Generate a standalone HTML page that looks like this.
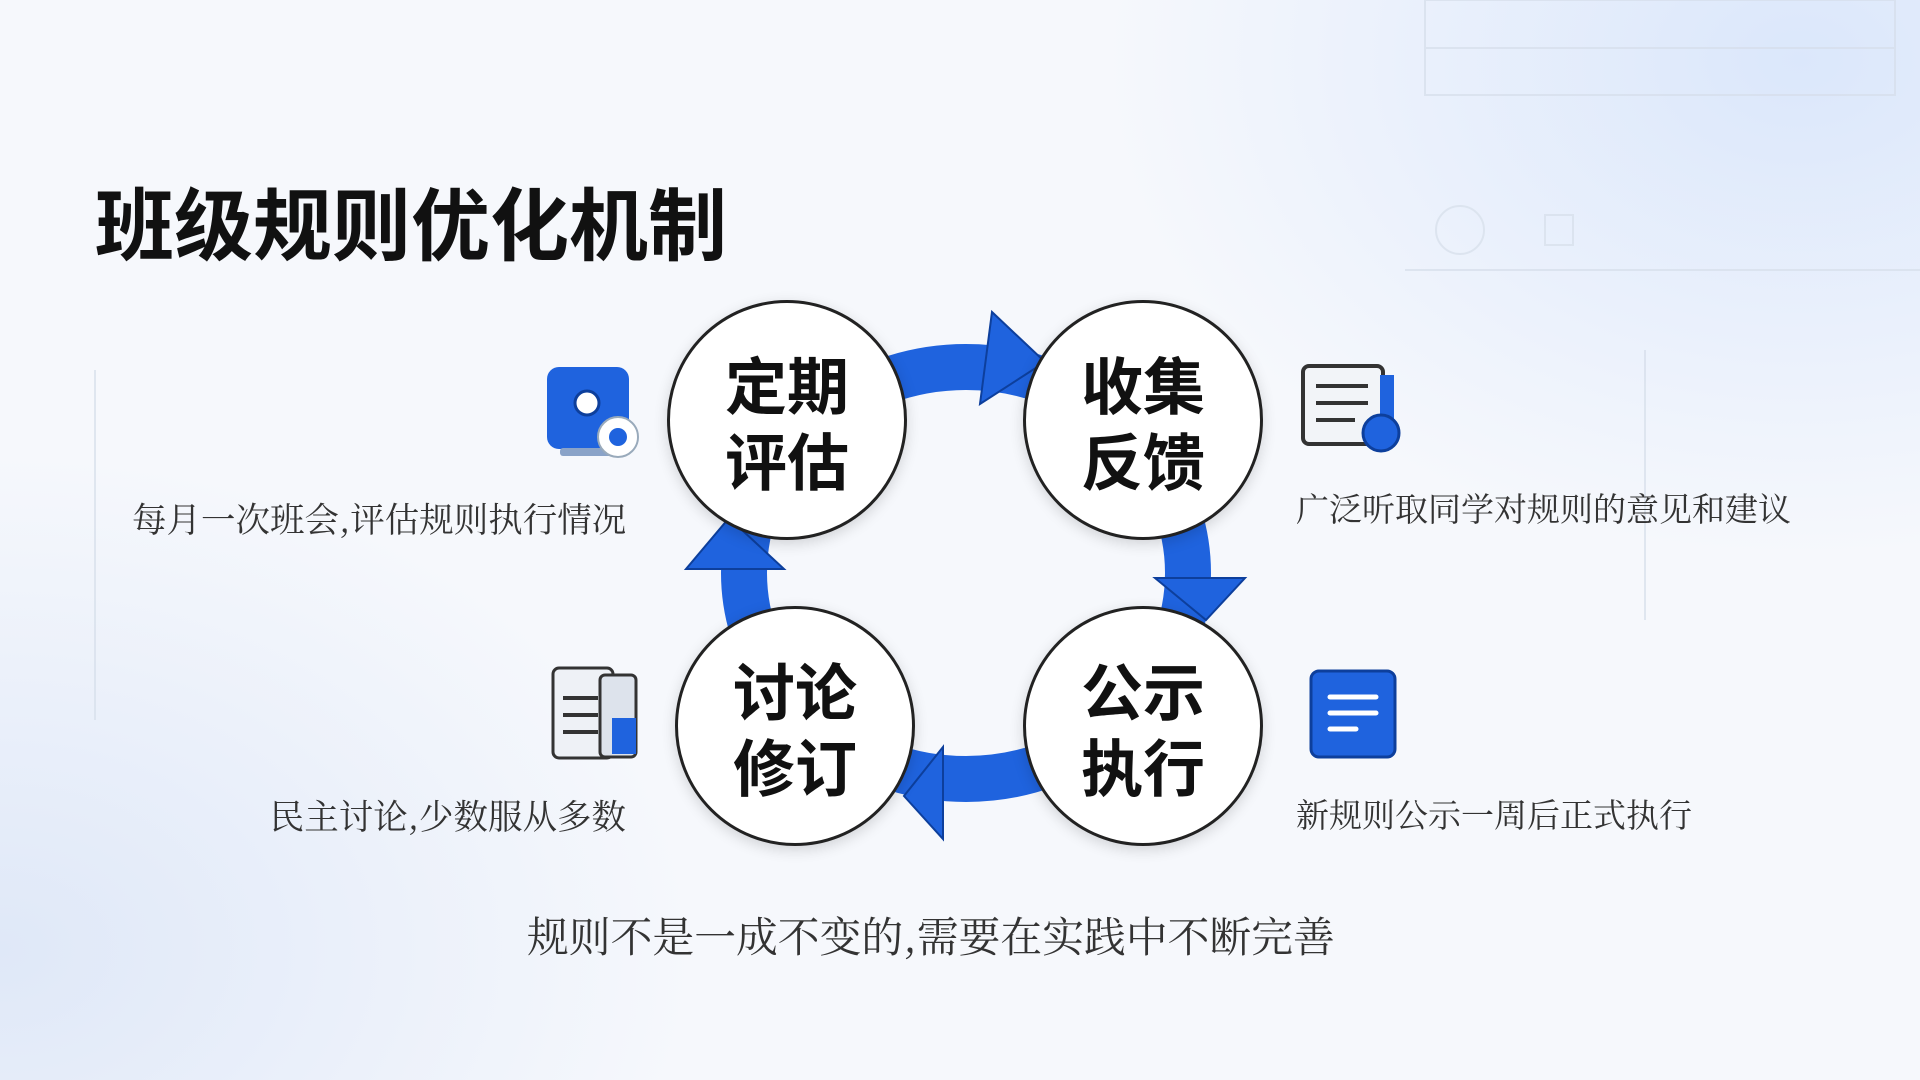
<!DOCTYPE html>
<html><head><meta charset="utf-8"><style>
html,body{margin:0;padding:0}
body{width:1920px;height:1080px;overflow:hidden;position:relative;font-family:"Liberation Sans","Noto Sans CJK SC",sans-serif;
background:radial-gradient(ellipse 700px 500px at 1800px 60px,#dbe7fb 0%,rgba(219,231,251,0) 100%),radial-gradient(ellipse 700px 500px at 0px 950px,#dfe8f8 0%,rgba(223,232,248,0) 100%),#f6f8fc;}
.t{position:absolute;white-space:nowrap;color:#222;}
.title{left:95px;top:162px;font-size:79px;font-weight:bold;color:#111;font-family:"Noto Sans CJK SC",sans-serif;}
.d{font-size:34.5px;line-height:40px;font-family:"Noto Serif CJK SC","Noto Sans CJK SC",serif;color:#333}
.r{font-size:33px}
.c{position:absolute;width:240px;height:240px;border-radius:50%;background:#fff;border:3px solid #222;box-sizing:border-box;display:flex;align-items:center;justify-content:center;text-align:center;font-size:62px;line-height:76px;font-weight:bold;color:#111;font-family:"Noto Sans CJK SC",sans-serif;box-shadow:0 4px 14px rgba(0,0,0,.15)}
</style></head><body>
<svg width="1920" height="1080" style="position:absolute;left:0;top:0">
<g stroke="#d6deea" stroke-width="2" fill="none" opacity=".7">
<rect x="1425" y="0" width="470" height="95"/><line x1="1425" y1="48" x2="1895" y2="48"/>
<line x1="1405" y1="270" x2="1920" y2="270"/><circle cx="1460" cy="230" r="24"/><rect x="1545" y="215" width="28" height="30"/>
<line x1="95" y1="370" x2="95" y2="720"/><line x1="1645" y1="350" x2="1645" y2="620"/>
</g>
<ellipse cx="966" cy="573" rx="222" ry="206" fill="none" stroke="#1f63de" stroke-width="46"/>
<g fill="#1f63de" stroke="#0d3f9c" stroke-width="2">
<polygon points="992,312 1045,362 980,404"/>
<polygon points="1155,578 1245,578 1206,620"/>
<polygon points="943,747 943,839 904,796"/>
<polygon points="686,569 784,569 729,518"/>
</g>
<rect x="547" y="367" width="82" height="82" rx="12" fill="#1f63de"/><rect x="560" y="448" width="66" height="8" rx="3" fill="#8aa3c8"/>
<circle cx="587" cy="403" r="12" fill="#fff" stroke="#0d3f9c" stroke-width="3"/>
<circle cx="618" cy="437" r="20" fill="#fff" stroke="#9ab" stroke-width="2"/><circle cx="618" cy="437" r="9" fill="#1f63de"/>
<rect x="1303" y="366" width="80" height="78" rx="6" fill="#f2f4f8" stroke="#333" stroke-width="4"/>
<rect x="1380" y="375" width="14" height="50" fill="#1f63de"/>
<g stroke="#333" stroke-width="4"><line x1="1316" y1="386" x2="1368" y2="386"/><line x1="1316" y1="403" x2="1368" y2="403"/><line x1="1316" y1="420" x2="1355" y2="420"/></g>
<circle cx="1381" cy="433" r="18" fill="#1f63de" stroke="#0d3f9c" stroke-width="3"/>
<rect x="553" y="668" width="60" height="90" rx="6" fill="#eef1f6" stroke="#333" stroke-width="3"/>
<rect x="600" y="675" width="36" height="82" rx="5" fill="#dde3ec" stroke="#333" stroke-width="3"/>
<rect x="612" y="718" width="24" height="36" fill="#1f63de"/>
<g stroke="#333" stroke-width="4"><line x1="563" y1="698" x2="598" y2="698"/><line x1="563" y1="715" x2="598" y2="715"/><line x1="563" y1="732" x2="598" y2="732"/></g>
<rect x="1311" y="671" width="84" height="86" rx="8" fill="#1f63de" stroke="#0d3f9c" stroke-width="3"/>
<g stroke="#fff" stroke-width="5" stroke-linecap="round"><line x1="1330" y1="697" x2="1376" y2="697"/><line x1="1330" y1="713" x2="1376" y2="713"/><line x1="1330" y1="729" x2="1356" y2="729"/></g>
</svg>
<div class="t title">班级规则优化机制</div>
<div class="c" style="left:667px;top:300px">定期<br>评估</div>
<div class="c" style="left:1023px;top:300px">收集<br>反馈</div>
<div class="c" style="left:675px;top:606px">讨论<br>修订</div>
<div class="c" style="left:1023px;top:606px">公示<br>执行</div>
<div class="t d" style="left:132px;top:497px">每月一次班会,评估规则执行情况</div>
<div class="t d r" style="left:1296px;top:488px">广泛听取同学对规则的意见和建议</div>
<div class="t d" style="right:1294px;top:794px">民主讨论,少数服从多数</div>
<div class="t d r" style="left:1296px;top:794px">新规则公示一周后正式执行</div>
<div class="t d" style="left:527px;top:910px;font-size:41.8px;line-height:48px">规则不是一成不变的,需要在实践中不断完善</div>
</body></html>
